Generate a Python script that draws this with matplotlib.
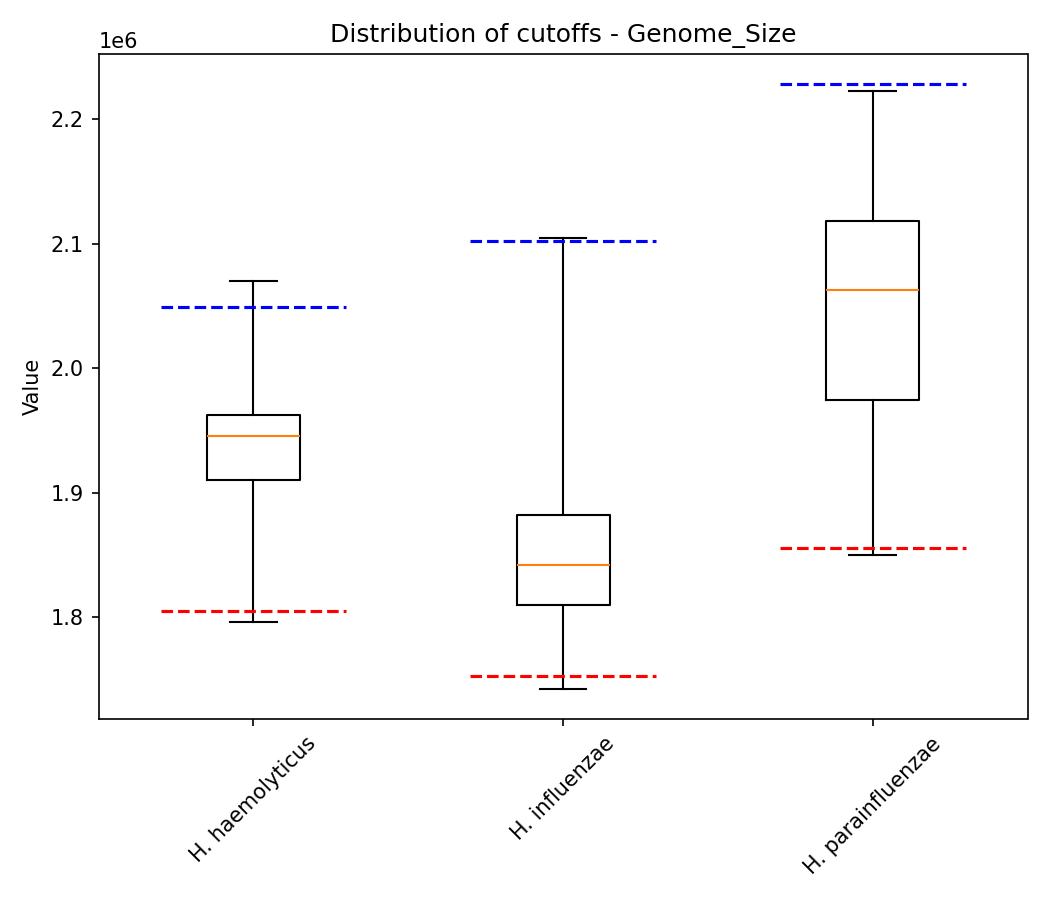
import matplotlib
matplotlib.use('Agg')
import matplotlib.pyplot as plt

## data (genome size in bp)
species = ['H. haemolyticus', 'H. influenzae', 'H. parainfluenzae']
whisker_low = [1.796e6, 1.7427e6, 1.850e6]
q1 = [1.9105e6, 1.8097e6, 1.9742e6]
median = [1.946e6, 1.842e6, 2.063e6]
q3 = [1.9621e6, 1.8823e6, 2.1185e6]
whisker_high = [2.0702e6, 2.1048e6, 2.2226e6]
upper_cutoff = [2.0492e6, 2.1024e6, 2.2282e6]
lower_cutoff = [1.805e6, 1.7532e6, 1.8556e6]

stats = []
for i, name in enumerate(species):
    stats.append({'label': name, 'whislo': whisker_low[i], 'q1': q1[i], 'med': median[i],
                  'q3': q3[i], 'whishi': whisker_high[i], 'fliers': []})

## plot
fig, ax = plt.subplots(figsize=(7, 6), dpi=150)
ax.bxp(stats, positions=[1, 2, 3], showfliers=False)

for i in range(len(species)):
    pos = i + 1
    ax.hlines(upper_cutoff[i], pos - 0.3, pos + 0.3, colors='blue', linestyles='--')
    ax.hlines(lower_cutoff[i], pos - 0.3, pos + 0.3, colors='red', linestyles='--')

ax.set_xlim(0.5, 3.5)
ax.set_title('Distribution of cutoffs - Genome_Size')
ax.set_ylabel('Value')
plt.xticks(rotation=45)
plt.tight_layout()
plt.savefig('out.png', dpi=150)
